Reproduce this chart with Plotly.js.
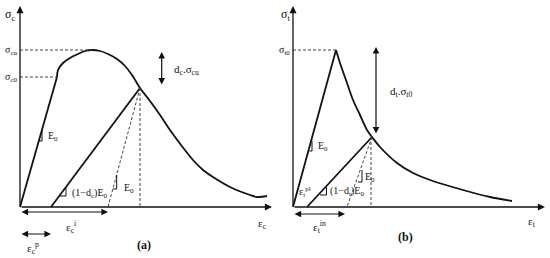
<!DOCTYPE html>
<html>
<head>
<meta charset="utf-8">
<script src="https://cdn.plot.ly/plotly-3.0.1.min.js"></script>
<style>html,body{margin:0;padding:0;background:#fff}</style>
</head>
<body>
<div id="chart" style="width:550px;height:258px"></div>
<script>
// Esquema de daño plástico del hormigón: (a) compresión, (b) tracción
// unidades del esquema (deformación / tensión arbitrarias, origen en el cruce de ejes)

// --- (a) compresión ---
const compLoadEps = [0, 37];
const compLoadSig = [0, 130];
const compCurveEps = [37, 38, 43, 50, 58, 65, 72, 80, 88, 97, 105, 112, 120, 130, 140, 150, 161, 173, 183, 193, 210, 230, 237, 247];
const compCurveSig = [130, 137, 144, 149, 153, 156, 157, 156, 153, 148, 141, 132, 119, 106, 92, 77, 62, 47, 37, 30, 20, 12, 10, 11];
const compUnloadEps = [120, 31];
const compUnloadSig = [119, 0];
const compElasticEps = [120, 88];      // recta E0 discontinua
const compElasticSig = [119, 0];
const compSigCu = 157;
const compSigC0 = 130;
const compPeakEps = 72;
const compEpsI = 88;                   // εc^i
const compEpsP = 31;                   // εc^p

// --- (b) tracción ---
const tensLoadEps = [0, 43];
const tensLoadSig = [0, 157];
const tensCurveEps = [43, 47, 54, 60, 67, 74, 79, 87, 104, 120, 137, 170, 197, 219];
const tensCurveSig = [157, 144, 124, 107, 92, 77, 70, 60, 44, 34, 27, 17, 10, 6];
const tensUnloadEps = [79, 14];
const tensUnloadSig = [70, 0];
const tensElasticEps = [79, 54];
const tensElasticSig = [70, 0];
const tensSigT0 = 157;
const tensEpsIn = 52;                  // εt^in

// --- marcas de pendiente (triangulitos) ---
const slopeA1Eps = [18.8, 22, 22], slopeA1Sig = [66, 66, 77];
const slopeA2Eps = [39.5, 46, 46], slopeA2Sig = [11, 11, 20];
const slopeA3Eps = [92.8, 96.7, 96.7], slopeA3Sig = [18, 18, 32];
const slopeB1Eps = [16.5, 19, 19], slopeB1Sig = [56, 56, 66];
const slopeB2Eps = [27, 33.5, 33.5], slopeB2Sig = [12, 12, 20];
const slopeB3Eps = [65, 69, 69], slopeB3Sig = [25, 25, 37];

(function () {
  'use strict';

  const SERIF = '"Liberation Serif", serif';
  const INK = '#111';
  const DASH = '#444';

  function solid(x, y, ax, w, shape) {
    return {
      x, y, type: 'scatter', mode: 'lines', hoverinfo: 'skip',
      xaxis: ax[0], yaxis: ax[1],
      line: { color: INK, width: w || 1.8, shape: shape || 'linear', smoothing: 0.8 }
    };
  }
  function dashed(x, y, ax) {
    return {
      x, y, type: 'scatter', mode: 'lines', hoverinfo: 'skip',
      xaxis: ax[0], yaxis: ax[1],
      line: { color: DASH, width: 1, dash: '3px,2px' }
    };
  }

  const A = ['x', 'y'], B = ['x2', 'y2'];

  const traces = [
    // (a)
    solid(compLoadEps, compLoadSig, A),
    solid(compCurveEps, compCurveSig, A, 1.8, 'spline'),
    solid(compUnloadEps, compUnloadSig, A),
    dashed(compElasticEps, compElasticSig, A),
    dashed([compUnloadEps[0], compUnloadEps[0]], [compUnloadSig[0], 0], A),
    dashed([0, compPeakEps], [compSigCu, compSigCu], A),
    dashed([0, compLoadEps[1]], [compSigC0, compSigC0], A),
    solid(slopeA1Eps, slopeA1Sig, A, 1),
    solid(slopeA2Eps, slopeA2Sig, A, 1),
    solid(slopeA3Eps, slopeA3Sig, A, 1),
    // (b)
    solid(tensLoadEps, tensLoadSig, B),
    solid(tensCurveEps, tensCurveSig, B, 1.8, 'spline'),
    solid(tensUnloadEps, tensUnloadSig, B),
    dashed(tensElasticEps, tensElasticSig, B),
    dashed([tensUnloadEps[0] - 1, tensUnloadEps[0] - 1], [tensUnloadSig[0], 0], B),
    dashed([0, tensLoadEps[1]], [tensSigT0, tensSigT0], B),
    solid(slopeB1Eps, slopeB1Sig, B, 1),
    solid(slopeB2Eps, slopeB2Sig, B, 1),
    solid(slopeB3Eps, slopeB3Sig, B, 1)
  ];

  // flechas (ejes y cotas)
  function arrow(ax, x0, y0, x1, y1, both, w) {
    return {
      xref: ax[0], yref: ax[1], axref: ax[0], ayref: ax[1],
      x: x1, y: y1, ax: x0, ay: y0, text: '',
      showarrow: true, arrowhead: 2, arrowsize: 1.1, arrowwidth: w || 1.3,
      arrowcolor: INK,
      arrowside: both ? 'end+start' : 'end',
      startarrowhead: 2, startarrowsize: 1.1
    };
  }
  function label(ax, x, y, text, size, anchor) {
    return {
      xref: ax[0], yref: ax[1], x, y, text, showarrow: false,
      xanchor: anchor || 'center', yanchor: 'middle',
      font: { family: SERIF, size: size || 11, color: INK }
    };
  }

  const annotations = [
    // ejes (a)
    arrow(A, 0, 0, 252, 0),
    arrow(A, 0, 0, 0, 201),
    arrow(A, 141.7, 121, 141.7, 155, true, 1.2),
    arrow(A, 0, -5, compEpsI, -5, true, 1.2),
    arrow(A, 0, -27, compEpsP, -27, true, 1.2),
    label(A, -10, 192, 'σ<sub>c</sub>', 12),
    label(A, -1, compSigCu, 'σ<sub>cu</sub>', 10, 'right'),
    label(A, -1, compSigC0, 'σ<sub>c0</sub>', 10, 'right'),
    label(A, 152, 137, 'd<sub>c</sub>.σ<sub>cu</sub>', 11, 'left'),
    label(A, 26, 71, 'E<sub>0</sub>', 10, 'left'),
    label(A, 50, 14, '(1−d<sub>c</sub>)E<sub>0</sub>', 10, 'left'),
    label(A, 102, 19, 'E<sub>0</sub>', 10, 'left'),
    label(A, 51, -20, 'ε<sub>c</sub><sup>i</sup>', 11),
    label(A, 13, -41, 'ε<sub>c</sub><sup>p</sup>', 11),
    label(A, 124, -38, '<b>(a)</b>', 12),
    label(A, 242, -17, 'ε<sub>c</sub>', 11),
    // ejes (b)
    arrow(B, 0, 0, 252, 0),
    arrow(B, 0, 0, 0, 201),
    arrow(B, 83, 72, 83, 160, true, 1.2),
    arrow(B, 0, -7, tensEpsIn, -7, true, 1.2),
    label(B, -8, 192, 'σ<sub>t</sub>', 12),
    label(B, -1, tensSigT0, 'σ<sub>t0</sub>', 10, 'right'),
    label(B, 95, 115, 'd<sub>t</sub>.σ<sub>t0</sub>', 11, 'left'),
    label(B, 23, 61, 'E<sub>0</sub>', 10, 'left'),
    label(B, 12, 15, 'ε<sub>t</sub><sup>pl</sup>', 10),
    label(B, 35, 16, '(1−d<sub>t</sub>)E<sub>0</sub>', 10, 'left'),
    label(B, 70, 30, 'E<sub>0</sub>', 10, 'left'),
    label(B, 26, -20, 'ε<sub>t</sub><sup>in</sup>', 11),
    label(B, 112, -30, '<b>(b)</b>', 12),
    label(B, 239, -15, 'ε<sub>t</sub>', 11)
  ];

  const hidden = { showgrid: false, zeroline: false, showticklabels: false, ticks: '', showline: false, fixedrange: true };

  Plotly.newPlot('chart', traces, {
    width: 550, height: 258,
    margin: { l: 0, r: 0, t: 0, b: 0 },
    paper_bgcolor: '#fff', plot_bgcolor: '#fff',
    showlegend: false,
    font: { family: SERIF },
    xaxis: Object.assign({ domain: [0, 0.5], range: [-20, 255] }, hidden),
    yaxis: Object.assign({ domain: [0, 1], range: [-51, 207] }, hidden),
    xaxis2: Object.assign({ domain: [0.5, 1], range: [-18, 257] }, hidden),
    yaxis2: Object.assign({ domain: [0, 1], range: [-51, 207], anchor: 'x2' }, hidden),
    annotations
  }, { staticPlot: true });
})();
</script>
</body>
</html>
